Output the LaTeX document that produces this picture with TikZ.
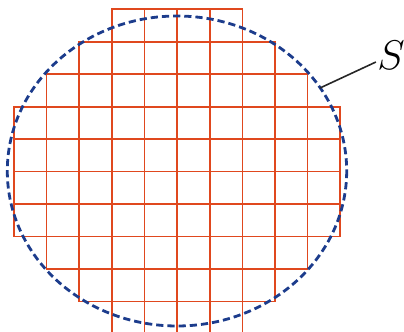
\documentclass[tikz,border=0pt]{standalone}
\usepackage{tikz}
\usetikzlibrary{positioning}
\definecolor{GridRed}{HTML}{E0481E}
\definecolor{RingBlue}{HTML}{1C3C8C}
\newcommand{\cw}{32.63}
\newcommand{\ch}{32.47}

\begin{document}
\begin{tikzpicture}[x=0.5pt, y=-0.5pt, cell/.style={draw=GridRed,line width=0.8pt}, ring/.style={draw=RingBlue,line width=1.4pt,dash pattern=on 3.6pt off 2pt}, lead/.style={draw=black!85,line width=0.8pt}]
\useasboundingbox (0,0) rectangle (404,332);
% squares covering the region, row by row
\foreach \r/\a/\b in {0/3/6,1/2/7,2/1/8,3/0/9,4/0/9,5/0/9,6/0/9,7/1/8,8/2/7,9/3/6}
  \foreach \c in {\a,...,\b}
    \draw[cell] ({14+\c*\cw},{9.3+\r*\ch}) rectangle ++(\cw,\ch);
\draw[ring] (177,171) ellipse [x radius=169.7, y radius=155];
\coordinate (tip) at (320,88);
\node[inner sep=0.5pt] (S) at (391,55) {\fontsize{21}{24}\selectfont $S$};
\draw[lead] (tip) -- (S);
\end{tikzpicture}
\end{document}
